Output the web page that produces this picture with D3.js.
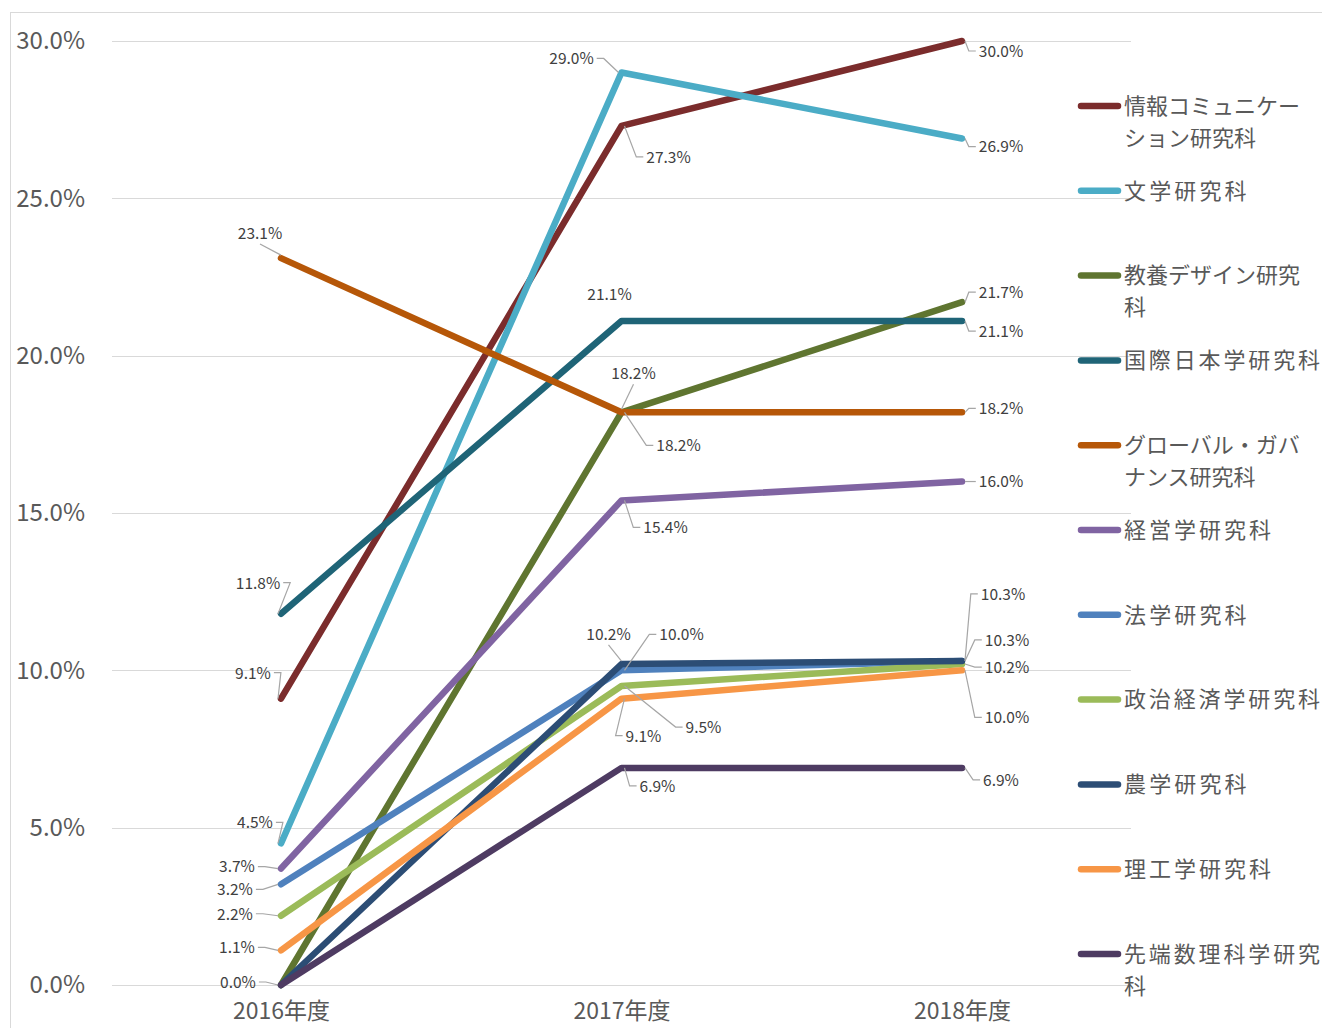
<!DOCTYPE html>
<html><head><meta charset="utf-8">
<script src="https://cdn.jsdelivr.net/npm/d3@7"></script>
<style>body{margin:0;background:#fff;} svg{display:block;}</style>
</head><body>
<svg id="c" width="1322" height="1028"></svg>
<script>
const categories = ["2016年度", "2017年度", "2018年度"];
const seriesNames = ["情報コミュニケーション研究科","文学研究科","教養デザイン研究科","国際日本学研究科","グローバル・ガバナンス研究科","経営学研究科","法学研究科","政治経済学研究科","農学研究科","理工学研究科","先端数理科学研究科"];
const legendLines = [["情報コミュニケー","ション研究科"],["文学研究科"],["教養デザイン研究","科"],["国際日本学研究科"],["グローバル・ガバ","ナンス研究科"],["経営学研究科"],["法学研究科"],["政治経済学研究科"],["農学研究科"],["理工学研究科"],["先端数理科学研究","科"]];
const valsJoho = [9.1, 27.3, 30.0];
const valsBungaku = [4.5, 29.0, 26.9];
const valsKyoyo = [0.0, 18.2, 21.7];
const valsKokusai = [11.8, 21.1, 21.1];
const valsGlobal = [23.1, 18.2, 18.2];
const valsKeiei = [3.7, 15.4, 16.0];
const valsHogaku = [3.2, 10.0, 10.3];
const valsSeiji = [2.2, 9.5, 10.2];
const valsNogaku = [0.0, 10.2, 10.3];
const valsRiko = [1.1, 9.1, 10.0];
const valsSentan = [0.0, 6.9, 6.9];
const yTicks = [0, 5, 10, 15, 20, 25, 30];

const allVals = [valsJoho,valsBungaku,valsKyoyo,valsKokusai,valsGlobal,valsKeiei,valsHogaku,valsSeiji,valsNogaku,valsRiko,valsSentan];
const colors = ["#7B2C2C","#4BACC6","#5F7530","#1F6477","#B65708","#8064A2","#4F81BD","#9BBB59","#2C4D75","#F79646","#4E3B62"];

// label offsets (px) relative to point, per series per category; null = no label
const labelOff = [
  [[-28,-26],[47,31],[39,10]],
  [[-26,-21],[-50,-14],[39,8]],
  [[-43,-3],[12,-39],[39,-10]],
  [[-23,-31],[-12,-27],[39,10]],
  [[-21,-25],[57,33],[39,-4]],
  [[-44,-2],[44,27],[39,0]],
  [[-46,5],[60,-36],[41,-67]],
  [[-46,-2],[82,41],[45,3]],
  [null,[-13,-30],[45,-21]],
  [[-44,-3],[22,37],[45,47]],
  [null,[36,18],[39,12]]
];

const svg = d3.select("#c");
const font = "'Noto Sans CJK JP','Noto Sans',sans-serif";

svg.append("rect").attr("x",10.5).attr("y",12.5).attr("width",1400).attr("height",1100)
  .attr("fill","#fff").attr("stroke","#d9d9d9").attr("stroke-width",1);

const x = d3.scalePoint().domain(categories).range([281, 962]);
const y = d3.scaleLinear().domain([0, 30]).range([985, 41]);

// gridlines
svg.append("g").selectAll("line").data(yTicks).join("line")
  .attr("x1",112).attr("x2",1131)
  .attr("y1",d=>Math.round(y(d))+0.5).attr("y2",d=>Math.round(y(d))+0.5)
  .attr("stroke","#d9d9d9").attr("stroke-width",1);

// y axis labels
const yAxis = d3.axisLeft(y).tickValues(yTicks).tickSize(0).tickPadding(0).tickFormat(d=>d.toFixed(1)+"%");
const ya = svg.append("g").attr("transform","translate(85,0)").call(yAxis);
ya.select(".domain").remove();
ya.selectAll("text").attr("font-family",font).attr("font-size",24).attr("fill","#595959").attr("dy","0.33em");

// x axis labels
const xAxis = d3.axisBottom(x).tickSize(0).tickPadding(0);
const xa = svg.append("g").attr("transform","translate(0,1003)").call(xAxis);
xa.select(".domain").remove();
xa.selectAll("text").attr("font-family",font).attr("font-size",23).attr("fill","#595959").attr("dy","0.71em");

// lines
const line = d3.line().x((d,i)=>x(categories[i])).y(d=>y(d));
const lg = svg.append("g");
allVals.forEach((vals,s)=>{
  lg.append("path").attr("d",line(vals)).attr("fill","none")
    .attr("stroke",colors[s]).attr("stroke-width",6.5)
    .attr("stroke-linecap","round").attr("stroke-linejoin","round");
});

// data labels with leader lines
const labG = svg.append("g");
allVals.forEach((vals,s)=>{
  vals.forEach((v,i)=>{
    const off = labelOff[s][i];
    if(!off) return;
    const px = x(categories[i]), py = y(v);
    const cx = px+off[0], cy = py+off[1];
    const t = labG.append("text").attr("x",cx).attr("y",cy).attr("text-anchor","middle")
      .attr("dy","0.38em").attr("font-family",font).attr("font-size",15.5).attr("fill","#404040")
      .text(v.toFixed(1)+"%");
    const bb = t.node().getBBox();
    const left = bb.x, right = bb.x+bb.width;
    const dist = Math.hypot(off[0],off[1]);
    if(dist < 30 && !(Math.abs(off[1])<8)) return;
    let pts;
    if(px < left){
      pts = [[px+3,py],[left-10,cy],[left-3,cy]];
    } else if(px > right){
      pts = [[px-3,py],[right+10,cy],[right+3,cy]];
    } else {
      const ey = off[1]<0 ? bb.y+bb.height+1 : bb.y-1;
      pts = [[px,py+(off[1]<0?-3:3)],[cx,ey]];
    }
    labG.insert("path",":first-child").attr("d",d3.line()(pts)).attr("fill","none")
      .attr("stroke","#a6a6a6").attr("stroke-width",1.2);
  });
});

// legend
const leg = svg.append("g");
const isKanji = ch => /[\u4e00-\u9fff]/.test(ch);
seriesNames.forEach((n,s)=>{
  const ly = 106 + s*84.8;
  leg.append("line").attr("x1",1081).attr("x2",1118).attr("y1",ly).attr("y2",ly)
    .attr("stroke",colors[s]).attr("stroke-width",6.5).attr("stroke-linecap","round");
  const t = leg.append("text").attr("x",1124).attr("y",ly).attr("font-family",font)
    .attr("font-size",22).attr("fill","#595959");
  legendLines[s].forEach((ln,k)=>{
    const ts = t.append("tspan").attr("x",1124).attr("dy", k===0 ? "0.35em" : "1.45em").text(ln);
    const chars = Array.from(ln);
    const nk = chars.filter(isKanji).length;
    if(nk === chars.length && chars.length > 1){
      const w = ts.node().getComputedTextLength();
      ts.attr("textLength", w + nk*2.5).attr("lengthAdjust","spacing");
    }
  });
});
</script>
</body></html>
